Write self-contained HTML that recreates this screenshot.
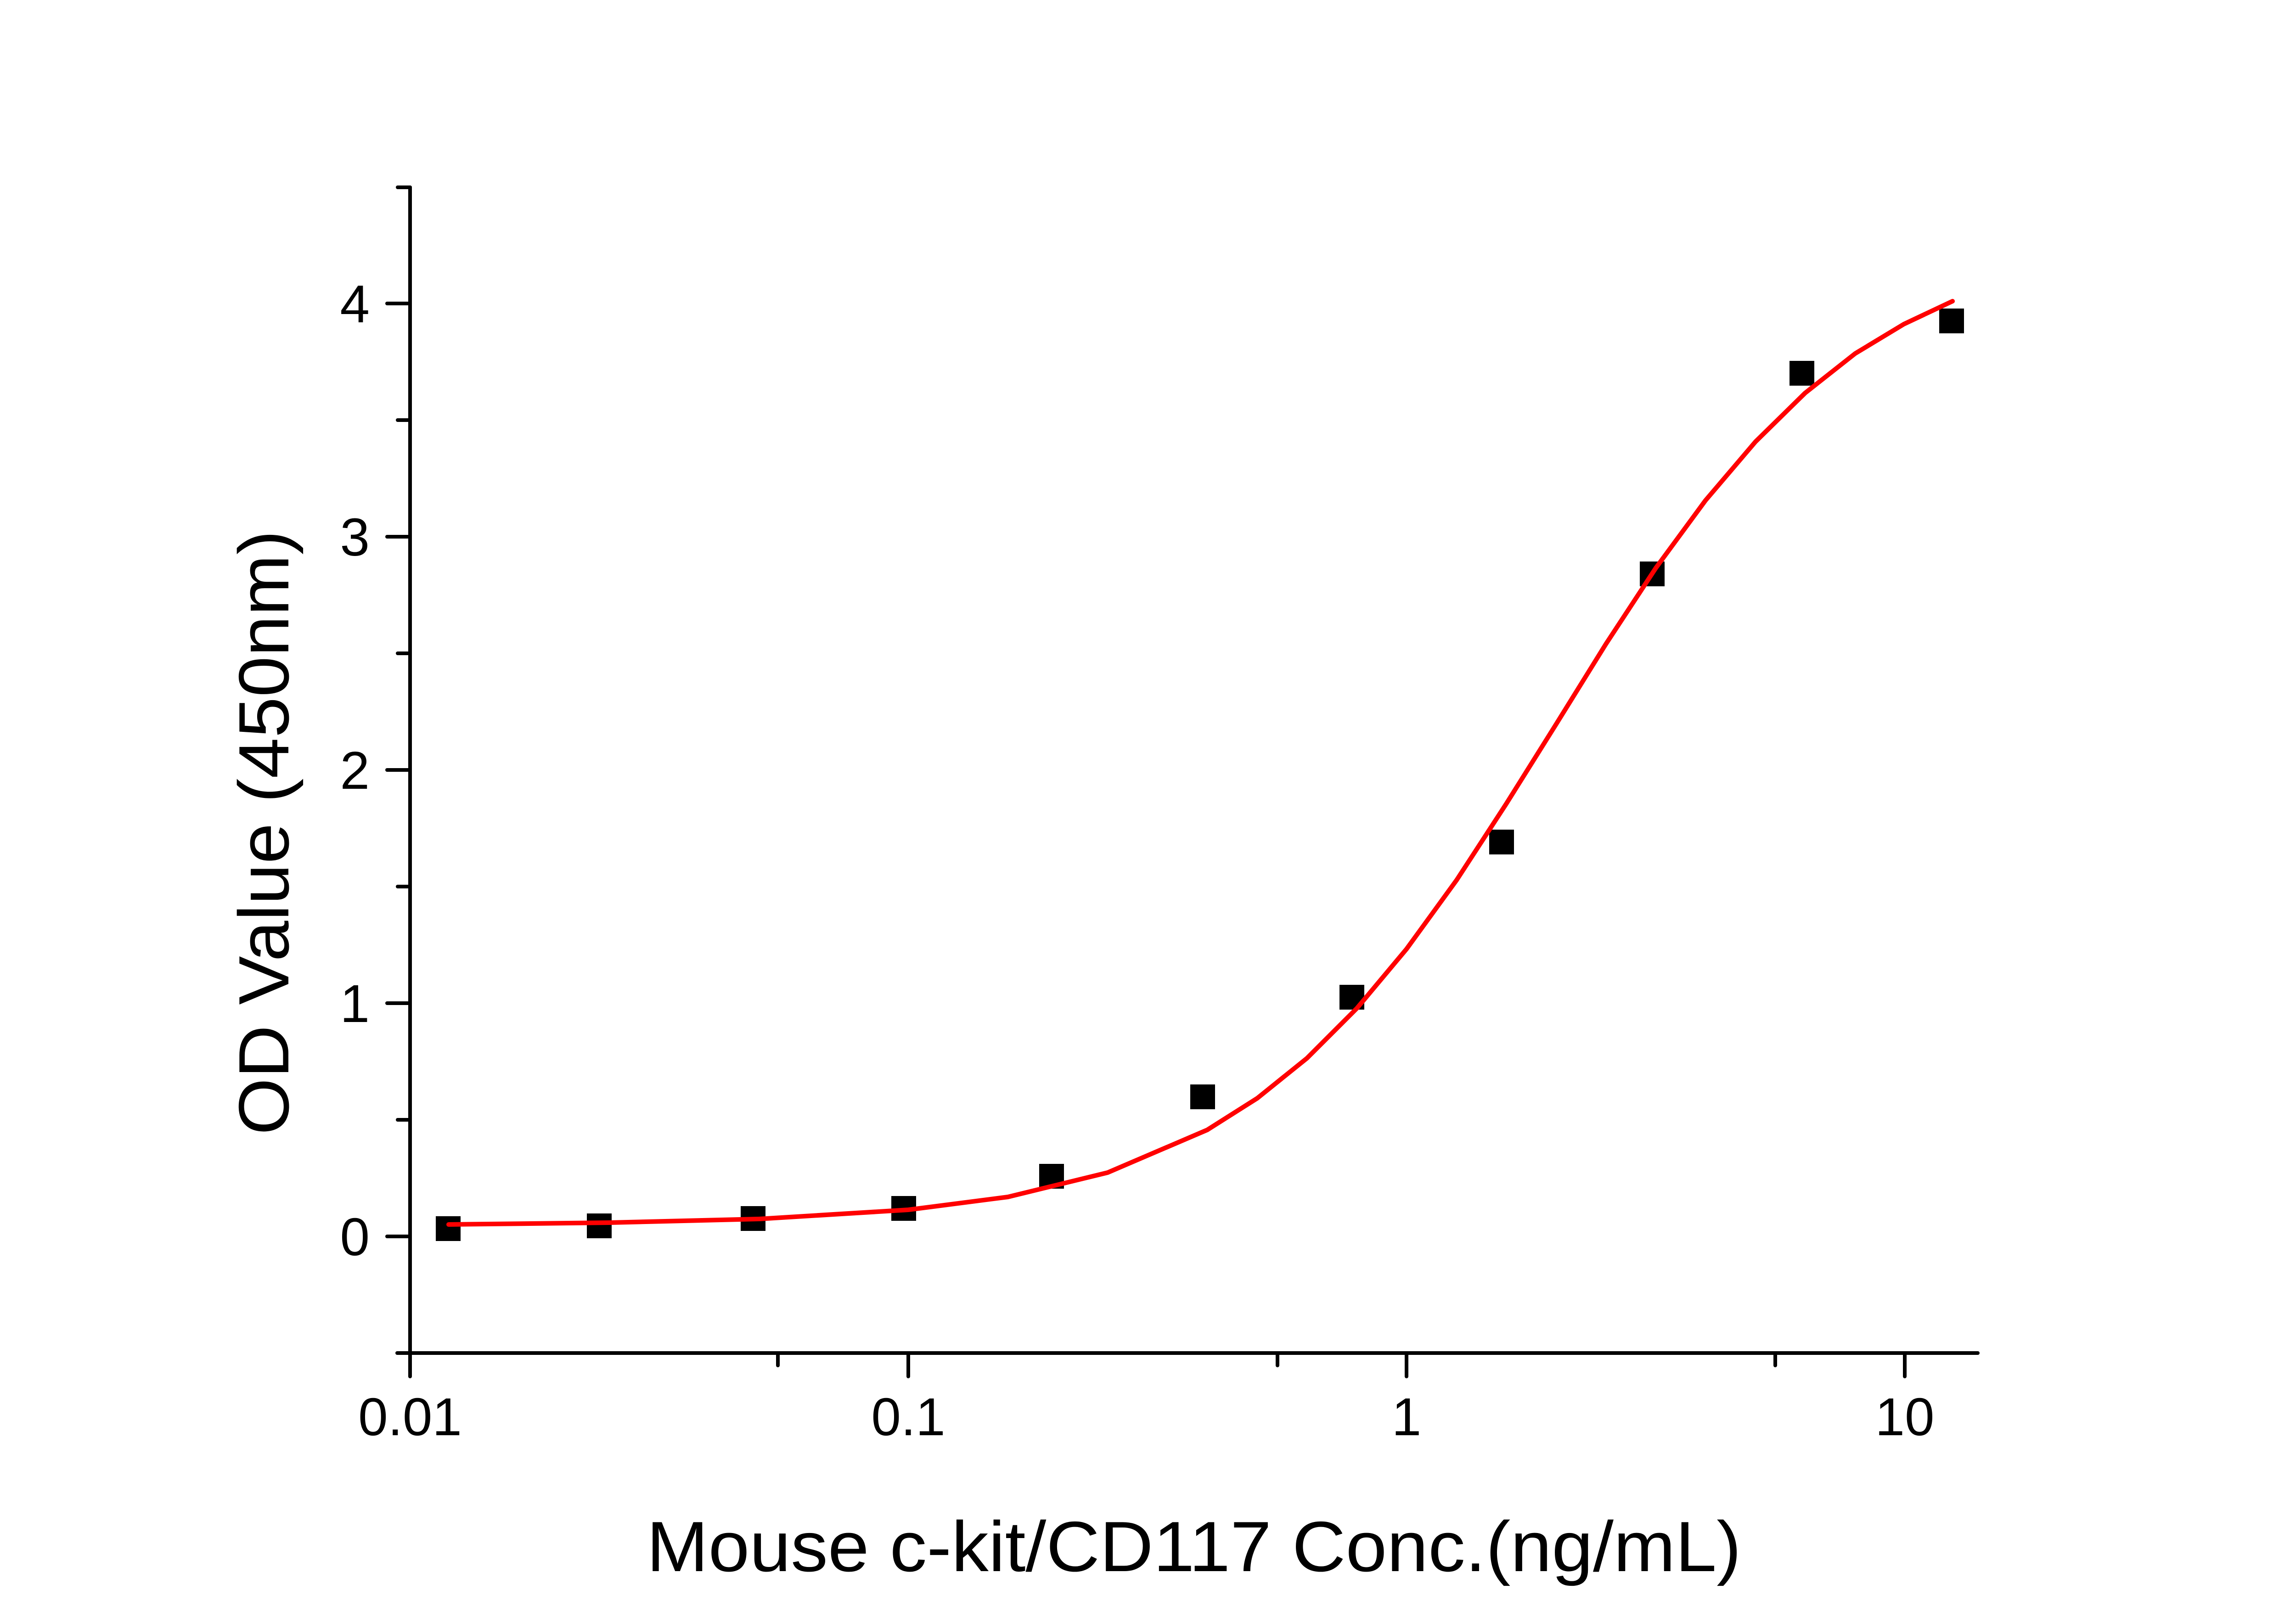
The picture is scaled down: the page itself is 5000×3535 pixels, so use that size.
<!DOCTYPE html>
<html><head><meta charset="utf-8"><style>html,body{margin:0;padding:0;background:#fff}svg{display:block}</style></head>
<body>
<svg width="5000" height="3535" viewBox="0 0 5000 3535" xmlns="http://www.w3.org/2000/svg" font-family="Liberation Sans, sans-serif">
<rect width="5000" height="3535" fill="#fff"/>
<g stroke="#000" stroke-width="8" stroke-linecap="round" fill="none">
<line x1="893" y1="408" x2="893" y2="2998"/>
<line x1="865" y1="2947" x2="4307" y2="2947"/>
<line x1="843" y1="2693" x2="893" y2="2693"/>
<line x1="843" y1="2185" x2="893" y2="2185"/>
<line x1="843" y1="1677" x2="893" y2="1677"/>
<line x1="843" y1="1169" x2="893" y2="1169"/>
<line x1="843" y1="661" x2="893" y2="661"/>
<line x1="866" y1="2439" x2="893" y2="2439"/>
<line x1="866" y1="1931" x2="893" y2="1931"/>
<line x1="866" y1="1423" x2="893" y2="1423"/>
<line x1="866" y1="915" x2="893" y2="915"/>
<line x1="866" y1="408" x2="893" y2="408"/>
<line x1="1978" y1="2947" x2="1978" y2="2998"/>
<line x1="3063" y1="2947" x2="3063" y2="2998"/>
<line x1="4148" y1="2947" x2="4148" y2="2998"/>
<line x1="1694" y1="2947" x2="1694" y2="2974"/>
<line x1="2782" y1="2947" x2="2782" y2="2974"/>
<line x1="3866" y1="2947" x2="3866" y2="2974"/>
</g>
<g font-size="116" fill="#000">
<text x="805" y="2734" text-anchor="end">0</text>
<text x="805" y="2226" text-anchor="end">1</text>
<text x="805" y="1718" text-anchor="end">2</text>
<text x="805" y="1210" text-anchor="end">3</text>
<text x="805" y="702" text-anchor="end">4</text>
<text x="893" y="3126" text-anchor="middle">0.01</text>
<text x="1978" y="3126" text-anchor="middle">0.1</text>
<text x="3063" y="3126" text-anchor="middle">1</text>
<text x="4148" y="3126" text-anchor="middle">10</text>
</g>
<text x="1408" y="3422" font-size="155" textLength="2384" lengthAdjust="spacingAndGlyphs">Mouse c-kit/CD117 Conc.(ng/mL)</text>
<text transform="translate(628,2472) rotate(-90)" x="0" y="0" font-size="155" textLength="1317" lengthAdjust="spacingAndGlyphs">OD Value (450nm)</text>
<g fill="#000">
<rect x="949" y="2649" width="54" height="54"/>
<rect x="1278" y="2643" width="54" height="54"/>
<rect x="1613" y="2627" width="54" height="54"/>
<rect x="1941" y="2605" width="54" height="54"/>
<rect x="2263" y="2535" width="54" height="54"/>
<rect x="2592" y="2362" width="54" height="54"/>
<rect x="2917" y="2145" width="54" height="54"/>
<rect x="3243" y="1807" width="54" height="54"/>
<rect x="3571" y="1223" width="54" height="54"/>
<rect x="3897" y="786" width="54" height="54"/>
<rect x="4223" y="672" width="54" height="54"/>
</g>
<polyline fill="none" stroke="#f00" stroke-width="10" stroke-linecap="round" stroke-linejoin="round"
points="977,2667 1327,2663 1653,2655 1978,2635 2195,2607 2412,2554 2629,2461 2738,2392 2846,2305 2955,2196 3063,2067 3172,1917 3280,1751 3389,1577 3497,1403 3606,1237 3714,1090 3823,962 3931,856 4040,770 4146,706 4252,656"/>
</svg>
</body></html>
